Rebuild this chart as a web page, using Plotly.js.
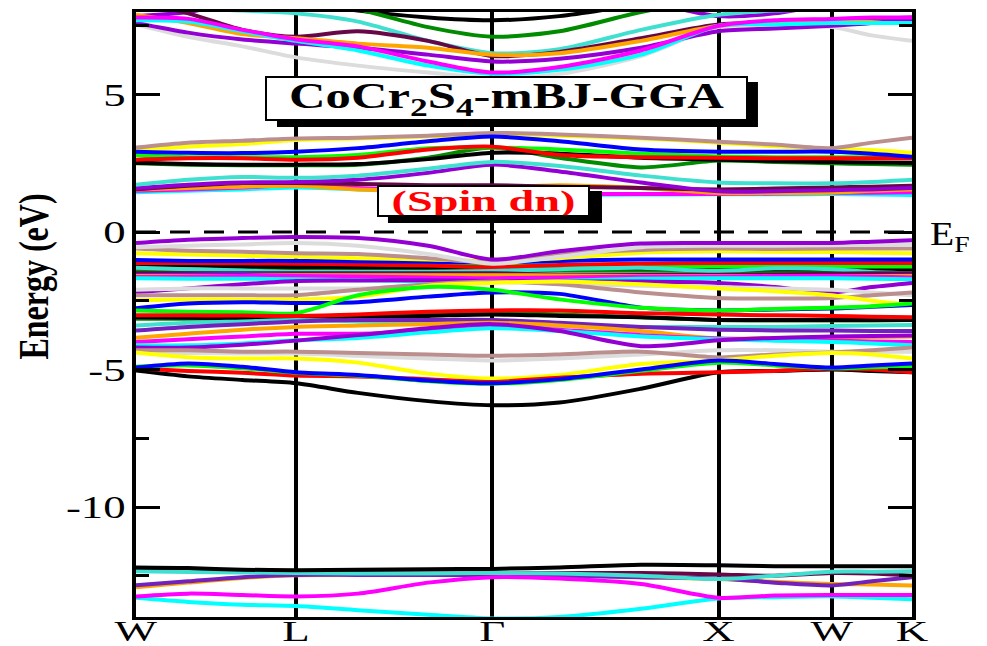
<!DOCTYPE html>
<html><head><meta charset="utf-8">
<script src="https://cdn.plot.ly/plotly-3.0.1.min.js"></script>
<style>html,body{margin:0;padding:0;background:#fff}#chart{width:987px;height:646px}</style>
</head><body><div id="chart"></div>
<script>
// k-path sample positions (W, ., ., L, ., ., Γ, ., ., X, ., W, ., K)
const kPath = [0, 0.23, 0.47, 0.707, 0.98, 1.29, 1.573, 1.87, 2.23, 2.573, 2.82, 3.073, 3.25, 3.427];
const symPos = [0, 0.707, 1.573, 2.573, 3.073, 3.427];
const symLabels = ['W', 'L', 'Γ', 'X', 'W', 'K'];
const yTickVals = [-10, -5, 0, 5];
const yTickText = ['-10', '-5', '0', '5'];
const yMinorVals = [-12.5, -7.5, -2.5, 2.5, 7.5];

// upper conduction bands (eV)
const u_black   = [8.6, 8.6, 8.5, 8.4, 8.05, 7.8, 7.7, 7.85, 8.3, 8.8, 8.9, 9.0, 9.0, 9.0];
const u_green4  = [8.7, 8.7, 8.6, 8.5, 8.1, 7.45, 7.1, 7.3, 8.0, 8.5, 8.6, 8.7, 8.7, 8.7];
const u_turq    = [8.3, 8.15, 8.05, 7.95, 7.65, 6.95, 6.5, 6.65, 7.35, 7.9, 8.05, 8.1, 8.15, 8.2];
const u_maroon  = [8.4, 7.95, 7.35, 7.1, 7.3, 6.95, 6.4, 6.55, 7.05, 7.55, 7.6, 7.7, 7.75, 7.8];
const u_orange  = [7.9, 7.6, 7.2, 7.05, 6.85, 6.7, 6.45, 6.5, 6.95, 7.5, 7.6, 7.65, 7.65, 7.65];
const u_grey    = [7.55, 7.1, 6.75, 6.35, 6.05, 5.8, 5.6, 5.75, 6.4, 7.45, 7.5, 7.45, 7.15, 6.95];
const u_violet  = [7.6, 7.25, 7.0, 6.85, 6.7, 6.45, 6.2, 6.3, 6.7, 7.3, 7.4, 7.5, 7.6, 7.75];
const u_cyan    = [7.7, 7.65, 7.3, 6.95, 6.6, 6.05, 5.75, 5.9, 6.45, 7.5, 7.55, 7.6, 7.6, 7.6];
const u_magenta = [7.8, 7.75, 7.35, 7.0, 6.75, 6.2, 5.8, 6.0, 6.6, 7.5, 7.7, 7.75, 7.8, 7.8];
const u_indigo  = [7.85, 8.0, 8.4, 8.6, 8.6, 8.6, 8.6, 8.6, 8.4, 7.85, 7.95, 8.3, 8.4, 8.4];

// lower conduction bands (eV)
const c_yellow  = [2.98, 3.1, 3.2, 3.35, 3.4, 3.47, 3.57, 3.5, 3.4, 3.25, 3.12, 3.03, 2.98, 2.88];
const c_brown   = [3.07, 3.25, 3.32, 3.4, 3.43, 3.5, 3.6, 3.55, 3.43, 3.28, 3.18, 3.05, 3.25, 3.43];
const c_green4  = [2.5, 2.45, 2.43, 2.43, 2.45, 2.7, 3.07, 2.7, 2.35, 2.6, 2.55, 2.5, 2.47, 2.45];
const c_black   = [2.52, 2.47, 2.45, 2.45, 2.47, 2.65, 2.88, 2.85, 2.7, 2.63, 2.58, 2.55, 2.53, 2.52];
const c_lime    = [2.8, 2.72, 2.72, 2.72, 2.8, 3.05, 3.07, 3.0, 2.85, 2.75, 2.72, 2.72, 2.72, 2.72];
const c_red     = [2.63, 2.68, 2.68, 2.63, 2.7, 3.0, 3.1, 2.8, 2.72, 2.7, 2.68, 2.68, 2.68, 2.68];
const c_blue    = [2.92, 2.88, 2.87, 2.92, 3.05, 3.3, 3.47, 3.3, 3.0, 2.92, 2.92, 2.92, 2.85, 2.74];
const c_cyan    = [1.45, 1.5, 1.55, 1.62, 1.55, 1.45, 1.35, 1.35, 1.36, 1.37, 1.37, 1.38, 1.36, 1.35];
const c_magenta = [1.5, 1.55, 1.62, 1.7, 1.6, 1.5, 1.4, 1.38, 1.38, 1.38, 1.4, 1.42, 1.43, 1.45];
const c_orange  = [1.55, 1.6, 1.65, 1.68, 1.55, 1.5, 1.6, 1.7, 1.6, 1.42, 1.42, 1.43, 1.5, 1.55];
const c_maroon  = [1.55, 1.68, 1.78, 1.78, 1.75, 1.7, 1.7, 1.65, 1.6, 1.55, 1.58, 1.62, 1.65, 1.68];
const c_violet  = [1.6, 1.72, 1.8, 1.82, 1.9, 2.15, 2.45, 2.2, 1.8, 1.48, 1.48, 1.52, 1.55, 1.6];
const c_turq    = [1.72, 1.9, 2.0, 1.97, 2.05, 2.3, 2.55, 2.4, 2.05, 1.8, 1.77, 1.77, 1.82, 1.9];

// valence bands (eV)
const v_green41 = [-1.38, -1.38, -1.38, -1.39, -1.39, -1.39, -1.4, -1.4, -1.4, -1.42, -1.45, -1.45, -1.45, -1.45];
const v_black1  = [-1.22, -1.22, -1.25, -1.27, -1.28, -1.28, -1.28, -1.3, -1.32, -1.35, -1.35, -1.35, -1.35, -1.35];
const v_lime1   = [-1.1, -1.1, -1.12, -1.12, -1.15, -1.18, -1.2, -1.22, -1.25, -1.25, -1.25, -1.25, -1.25, -1.25];
const v_red1    = [-1.13, -1.13, -1.14, -1.15, -1.18, -1.22, -1.28, -1.2, -1.15, -1.13, -1.13, -1.13, -1.13, -1.13];
const v_blue1   = [-1.02, -1.05, -1.05, -1.05, -1.06, -1.08, -1.1, -1.05, -1.0, -1.0, -1.0, -1.0, -1.0, -1.0];
const v_yellow1 = [-0.77, -0.82, -0.86, -0.9, -0.95, -1.0, -1.05, -0.95, -0.75, -0.7, -0.72, -0.73, -0.75, -0.77];
const v_brown1  = [-0.6, -0.68, -0.72, -0.77, -0.8, -0.95, -1.1, -0.8, -0.65, -0.6, -0.62, -0.6, -0.6, -0.6];
const v_grey1   = [-0.55, -0.5, -0.45, -0.4, -0.5, -0.8, -1.15, -0.9, -0.55, -0.5, -0.5, -0.48, -0.47, -0.47];
const v_violet1 = [-0.4, -0.28, -0.22, -0.18, -0.22, -0.5, -1.0, -0.7, -0.42, -0.4, -0.4, -0.4, -0.35, -0.3];
const v_turq1   = [-1.3, -1.35, -1.4, -1.45, -1.45, -1.45, -1.42, -1.35, -1.3, -1.42, -1.32, -1.35, -1.45, -1.5];
const v_maroon1 = [-1.5, -1.5, -1.5, -1.5, -1.5, -1.5, -1.5, -1.55, -1.55, -1.55, -1.55, -1.52, -1.5, -1.5];
const v_violet2 = [-1.57, -1.55, -1.53, -1.55, -1.55, -1.56, -1.58, -1.6, -1.62, -1.65, -1.65, -1.62, -1.6, -1.58];
const v_orange1 = [-1.6, -1.6, -1.6, -1.57, -1.57, -1.57, -1.57, -1.58, -1.6, -1.6, -1.6, -1.6, -1.6, -1.6];
const v_magenta1= [-1.64, -1.62, -1.6, -1.6, -1.62, -1.65, -1.68, -1.65, -1.62, -1.62, -1.6, -1.6, -1.62, -1.65];
const v_cyan1   = [-1.68, -1.7, -1.7, -1.72, -1.75, -1.8, -1.82, -1.78, -1.7, -1.68, -1.68, -1.68, -1.7, -1.72];
const v_violet3 = [-2.19, -2.05, -1.9, -1.78, -1.76, -1.75, -1.78, -1.8, -1.8, -1.85, -2.0, -2.2, -2.0, -1.85];
const v_grey2   = [-2.1, -2.05, -2.05, -2.05, -2.05, -1.95, -1.82, -1.88, -1.95, -2.0, -2.05, -2.1, -2.2, -2.3];
const v_brown2  = [-2.3, -2.3, -2.3, -2.3, -2.1, -1.9, -1.8, -1.9, -2.2, -2.4, -2.42, -2.4, -2.3, -2.2];
const v_yellow2 = [-2.48, -2.45, -2.45, -2.45, -2.35, -1.95, -1.85, -1.8, -1.9, -2.05, -2.15, -2.3, -2.5, -2.65];
const v_blue2   = [-2.77, -2.6, -2.55, -2.58, -2.55, -2.35, -2.2, -2.25, -2.75, -2.85, -2.82, -2.78, -2.72, -2.65];
const v_lime2   = [-2.85, -2.9, -2.92, -2.95, -2.3, -2.0, -2.1, -2.45, -2.75, -2.85, -2.8, -2.75, -2.7, -2.6];
const v_red2    = [-3.03, -3.03, -3.04, -3.05, -3.0, -2.9, -2.85, -2.85, -2.95, -3.0, -3.03, -3.05, -3.08, -3.1];
const v_black2  = [-3.1, -3.12, -3.15, -3.15, -3.1, -3.05, -3.0, -3.05, -3.1, -3.2, -3.2, -3.2, -3.2, -3.2];
const v_green42 = [-3.15, -3.15, -3.15, -3.15, -3.1, -3.0, -2.9, -3.0, -3.1, -3.2, -3.22, -3.22, -3.22, -3.2];
const v_turq2   = [-3.4, -3.3, -3.25, -3.2, -3.25, -3.3, -3.35, -3.4, -3.45, -3.45, -3.45, -3.42, -3.4, -3.38];
const v_maroon2 = [-3.58, -3.45, -3.35, -3.25, -3.2, -3.2, -3.2, -3.3, -3.45, -3.55, -3.58, -3.58, -3.6, -3.6];
const v_orange2 = [-3.85, -3.7, -3.55, -3.45, -3.4, -3.35, -3.3, -3.4, -3.6, -3.87, -3.85, -3.82, -3.82, -3.8];
const v_magenta2= [-4.0, -3.9, -3.8, -3.7, -3.7, -3.6, -3.45, -3.55, -3.75, -3.87, -3.9, -3.95, -3.98, -4.0];
const v_cyan2   = [-4.12, -4.12, -4.05, -3.94, -3.85, -3.65, -3.5, -3.6, -3.8, -3.9, -3.95, -4.0, -4.05, -4.12];
const v_violet4 = [-4.2, -4.2, -4.1, -3.95, -3.75, -3.5, -3.35, -3.6, -4.15, -3.94, -3.85, -3.8, -3.78, -3.76];
const v_grey3   = [-4.38, -4.4, -4.42, -4.42, -4.5, -4.6, -4.67, -4.6, -4.45, -4.3, -4.3, -4.35, -4.35, -4.35];
const v_brown3  = [-4.3, -4.3, -4.35, -4.35, -4.4, -4.45, -4.5, -4.45, -4.35, -4.56, -4.45, -4.38, -4.3, -4.2];
const v_yellow3 = [-4.38, -4.55, -4.6, -4.6, -4.75, -5.15, -5.33, -5.2, -4.8, -4.67, -4.5, -4.4, -4.45, -4.6];
const v_red3    = [-4.96, -5.05, -5.12, -5.22, -5.25, -5.35, -5.45, -5.3, -5.15, -5.1, -5.05, -4.96, -5.0, -5.1];
const v_lime3   = [-4.9, -4.85, -4.95, -5.12, -5.22, -5.42, -5.52, -5.38, -5.05, -4.75, -4.85, -4.95, -4.92, -4.9];
const v_blue3   = [-4.93, -4.78, -4.9, -5.1, -5.2, -5.4, -5.5, -5.35, -5.0, -4.67, -4.8, -4.93, -4.85, -4.78];
const v_black3  = [-5.04, -5.25, -5.38, -5.5, -5.85, -6.15, -6.3, -6.2, -5.7, -5.1, -5.05, -5.0, -5.05, -5.1];

// semicore bands (eV)
const b_cyan    = [-13.3, -13.45, -13.55, -13.6, -13.75, -13.92, -14.05, -14.0, -13.7, -13.33, -13.28, -13.25, -13.3, -13.35];
const b_orange  = [-12.92, -12.75, -12.58, -12.48, -12.46, -12.46, -12.46, -12.48, -12.55, -12.62, -12.72, -12.8, -12.82, -12.85];
const b_violet  = [-12.85, -12.7, -12.55, -12.47, -12.47, -12.47, -12.47, -12.5, -12.55, -12.6, -12.75, -12.85, -12.7, -12.55];
const b_maroon  = [-12.3, -12.32, -12.35, -12.38, -12.4, -12.42, -12.42, -12.4, -12.4, -12.45, -12.5, -12.4, -12.42, -12.5];
const b_turq    = [-12.34, -12.36, -12.38, -12.4, -12.42, -12.42, -12.4, -12.42, -12.5, -12.62, -12.5, -12.35, -12.35, -12.34];
const b_magenta = [-13.25, -13.15, -13.2, -13.25, -13.15, -12.75, -12.55, -12.6, -12.8, -13.3, -13.22, -13.2, -13.2, -13.2];
const b_black   = [-12.2, -12.22, -12.28, -12.3, -12.28, -12.26, -12.25, -12.2, -12.1, -12.12, -12.15, -12.15, -12.15, -12.15];

const C = {black:'#000000', red:'#FF0000', lime:'#00FF00', blue:'#0000FF', yellow:'#FFFF00',
  brown:'#BC8F8F', grey:'#DCDCDC', violet:'#9400D3', cyan:'#00FFFF', magenta:'#FF00FF',
  orange:'#FFA500', indigo:'#7221BC', maroon:'#670748', turq:'#40E0D0', green4:'#008B00'};

const bandList = [
  [u_black,C.black],[u_green4,C.green4],[u_indigo,C.violet],[u_grey,C.grey],[u_turq,C.turq],[u_maroon,C.maroon],
  [u_orange,C.orange],[u_violet,C.violet],[u_cyan,C.cyan],[u_magenta,C.magenta],
  [c_yellow,C.yellow],[c_brown,C.brown],[c_green4,C.green4],[c_black,C.black],[c_lime,C.lime],[c_red,C.red],
  [c_blue,C.blue],[c_cyan,C.cyan],[c_magenta,C.magenta],[c_orange,C.orange],[c_maroon,C.maroon],
  [c_violet,C.violet],[c_turq,C.turq],
  [v_green41,C.green4],[v_black1,C.black],[v_lime1,C.lime],[v_red1,C.red],[v_blue1,C.blue],[v_yellow1,C.yellow],
  [v_brown1,C.brown],[v_grey1,C.grey],[v_violet1,C.violet],[v_turq1,C.turq],[v_maroon1,C.maroon],
  [v_violet2,C.indigo],[v_orange1,C.orange],[v_magenta1,C.magenta],[v_cyan1,C.cyan],[v_violet3,C.violet],
  [v_grey2,C.grey],[v_brown2,C.brown],[v_yellow2,C.yellow],[v_blue2,C.blue],[v_lime2,C.lime],
  [v_green42,C.green4],[v_black2,C.black],[v_red2,C.red],[v_turq2,C.turq],[v_maroon2,C.indigo],
  [v_orange2,C.orange],[v_magenta2,C.magenta],[v_cyan2,C.cyan],[v_violet4,C.violet],[v_grey3,C.grey],
  [v_brown3,C.brown],[v_yellow3,C.yellow],[v_black3,C.black],[v_red3,C.red],[v_lime3,C.lime],[v_blue3,C.blue],
  [b_cyan,C.cyan],[b_orange,C.orange],[b_violet,C.indigo],[b_maroon,C.maroon],[b_turq,C.turq],
  [b_magenta,C.magenta],[b_black,C.black]
];

const traces = bandList.map(([e, col]) => ({
  x: kPath, y: e, type: 'scatter', mode: 'lines',
  line: {color: col, width: 4, shape: 'spline', smoothing: 0.8},
  hoverinfo: 'skip', showlegend: false
}));

const serif = 'Liberation Serif, Times New Roman, serif';

const layout = {
  width: 987, height: 646,
  margin: {l: 136, r: 75, t: 12, b: 29},
  paper_bgcolor: '#fff', plot_bgcolor: '#fff',
  showlegend: false,
  font: {family: serif, color: '#000'},
  xaxis: {
    range: [0, symPos[symPos.length - 1]], tickmode: 'array', tickvals: symPos, ticktext: symLabels,
    showticklabels: true, tickfont: {family: serif, size: 30, color: '#000'}, ticklabelstandoff: -15,
    showgrid: true, gridcolor: '#000', gridwidth: 4, zeroline: false,
    showline: true, linecolor: '#000', linewidth: 3, mirror: true, ticks: ''
  },
  yaxis: {
    range: [-14, 8], tickmode: 'array', tickvals: yTickVals, ticktext: yTickText,
    ticks: 'inside', ticklen: 24, tickwidth: 3, tickcolor: '#000',
    minor: {tickmode: 'array', tickvals: yMinorVals, ticks: 'inside', ticklen: 13, tickwidth: 3, tickcolor: '#000', showgrid: false},
    showgrid: false, zeroline: false,
    showline: true, linecolor: '#000', linewidth: 4, mirror: 'ticks',
    tickfont: {family: serif, size: 32, color: '#000'}, ticklabelstandoff: 0,
    title: {text: '<b>Energy (eV)</b>', font: {family: serif, size: 32, color: '#000'}, standoff: 30}
  },
  shapes: [
    {type: 'line', xref: 'paper', yref: 'y', x0: 0, x1: 1, y0: 0, y1: 0,
     line: {color: '#000', width: 3, dash: '20px,14px'}, layer: 'above'},
    {type: 'rect', xref: 'paper', yref: 'paper', x0: 0.1817, x1: 0.8015, y0: 0.8099, y1: 0.8843,
     fillcolor: '#000', line: {width: 0}, layer: 'above'},
    {type: 'rect', xref: 'paper', yref: 'paper', x0: 0.3247, x1: 0.6005, y0: 0.6512, y1: 0.7041,
     fillcolor: '#000', line: {width: 0}, layer: 'above'}
  ],
  annotations: [
    {xref: 'paper', yref: 'paper', x: 0.4774, y: 0.857, xanchor: 'center', yanchor: 'middle',
     text: '<b>CoCr<sub>2</sub>S<sub>4</sub>-mBJ-GGA</b>', showarrow: false,
     font: {family: serif, size: 36, color: '#000'}, bgcolor: '#fff', bordercolor: '#000', borderwidth: 2,
     borderpad: 0, width: 479, height: 41},
    {xref: 'paper', yref: 'paper', x: 0.4478, y: 0.6876, xanchor: 'center', yanchor: 'middle',
     text: '<b>(Spin dn)</b>', showarrow: false,
     font: {family: serif, size: 30, color: '#FF0000'}, bgcolor: '#fff', bordercolor: '#000', borderwidth: 2,
     borderpad: 0, width: 209, height: 28},
    {xref: 'paper', yref: 'y', x: 1, y: 0, xanchor: 'left', yanchor: 'middle', xshift: 16, yshift: -4,
     text: 'E<sub>F</sub>', showarrow: false, font: {family: serif, size: 33, color: '#000'}}
  ]
};

function stretch1(t, s, cx) {
  const prev = t.getAttribute('transform') || '';
  t.setAttribute('transform', prev + ' translate(' + cx + ',0) scale(' + s + ',1) translate(' + (-cx) + ',0)');
}

Plotly.newPlot('chart', traces, layout, {staticPlot: true, displayModeBar: false}).then(() => {
  document.querySelectorAll('.ytick text').forEach(t => {
    const b = t.getBBox(); stretch1(t, 1.4, b.x + b.width);
  });
  document.querySelectorAll('.xtick text').forEach(t => {
    const b = t.getBBox(); stretch1(t, 1.5, b.x + b.width / 2);
  });
  const ann = document.querySelectorAll('.annotation-text');
  ann.forEach((t, i) => {
    const b = t.getBBox();
    if (i === 0) stretch1(t, 435 / b.width, b.x + b.width / 2);
    else if (i === 1) stretch1(t, 184 / b.width, b.x + b.width / 2);
    else if (i === 2) stretch1(t, 1.2, b.x);
  });
  const yt = document.querySelector('.ytitle');
  if (yt) {
    const b = yt.getBBox();
    const cy = b.y + b.height / 2;
    const prev = yt.getAttribute('transform') || '';
    yt.setAttribute('transform', prev + ' translate(38,' + cy + ') scale(1,1.35) translate(0,' + (-cy) + ')');
  }
});
</script>
</body></html>
